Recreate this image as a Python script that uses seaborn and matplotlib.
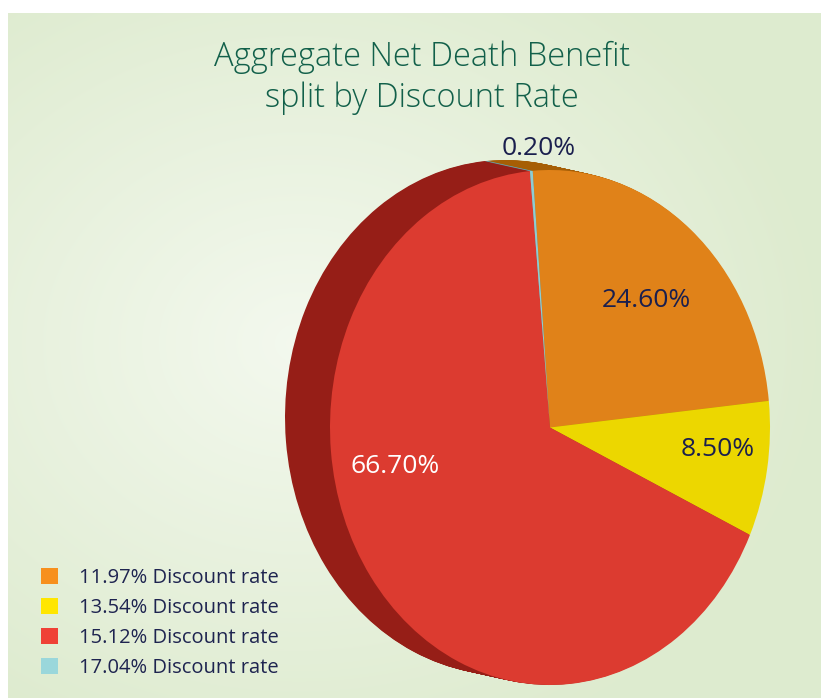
import numpy as np
import matplotlib
matplotlib.use("Agg")
import matplotlib.pyplot as plt
import seaborn as sns
from matplotlib.patches import Patch

sns.set_style("white")
plt.rcParams['font.family'] = ['Open Sans', 'DejaVu Sans']

# ------------------ data ------------------
rates = ["11.97% Discount rate", "13.54% Discount rate",
         "15.12% Discount rate", "17.04% Discount rate"]
shares = [24.60, 8.50, 66.70, 0.20]
share_labels = ["24.60%", "8.50%", "66.70%", "0.20%"]

# ------------------ style ------------------
top_colors = ["#E08219", "#ECD700", "#DC3B30", "#8ECDD3"]
side_colors = ["#A65E05", "#B09F00", "#961E17", "#6AA0A5"]
legend_colors = ["#F7901E", "#FFE600", "#EF4136", "#9AD7DB"]
label_colors = ["#1A1F4E", "#1A1F4E", "#FFFFFF", "#1A1F4E"]
label_pos = [(0.436, 0.495), (0.764, -0.087), (-0.705, -0.150), (-0.05, 1.085)]
navy = "#1E2450"
title_green = "#12604A"

W, H = 821, 698
fig = plt.figure(figsize=(W / 100, H / 100), dpi=100)
fig.patch.set_facecolor("white")

# background panel with soft radial gradient
bg = fig.add_axes([8 / W, 0, 1 - 8 / W, (H - 13) / H])
yy, xx = np.mgrid[0:H - 13, 0:W - 8]
d = np.sqrt(((xx - 290) / 520.0) ** 2 + ((yy - 330) / 430.0) ** 2)
d = np.clip(d, 0, 1)
c_in = np.array([0.955, 0.975, 0.935])
c_out = np.array([0.870, 0.922, 0.812])
img = c_in[None, None, :] * (1 - d[..., None]) + c_out[None, None, :] * d[..., None]
bg.imshow(img, aspect="auto", interpolation="bilinear")
bg.axis("off")

# pie axes over whole figure, stretched so the face is an ellipse
ax = fig.add_axes([0, 0, 1, 1])
ax.patch.set_alpha(0)

start = 94.5
# extruded side: stack of offset pies from back to front
back = np.array([-0.2045, 0.0388])
n_layers = 46
for i in range(n_layers, 0, -1):
    off = back * i / n_layers
    ax.pie(shares, colors=side_colors, startangle=start, counterclock=False,
           center=(off[0], off[1]), radius=1.0,
           wedgeprops=dict(linewidth=0), frame=True)

# top face
ax.pie(shares, colors=top_colors, startangle=start, counterclock=False,
       center=(0, 0), radius=1.0, wedgeprops=dict(linewidth=0), frame=True)

for lab, (lx, ly), col in zip(share_labels, label_pos, label_colors):
    ax.text(lx, ly, lab, ha="center", va="center", fontsize=19, color=col)

ax.set_aspect("auto")
ax.set_xlim(-550 / 220, (W - 550) / 220)
ax.set_ylim((427.5 - H) / 257.5, 427.5 / 257.5)
ax.axis("off")

# title
fig.text(0.514, 1 - 66 / H, "Aggregate Net Death Benefit", ha="center", va="baseline",
         fontsize=23.5, fontweight="light", color=title_green)
fig.text(0.514, 1 - 107 / H, "split by Discount Rate", ha="center", va="baseline",
         fontsize=23.5, fontweight="light", color=title_green)

# legend
handles = [Patch(facecolor=c, edgecolor="none") for c in legend_colors]
fig.legend(handles, rates, loc="upper left", bbox_to_anchor=(41 / W, 1 - 568 / H),
           frameon=False, fontsize=14.5, labelcolor=navy, handlelength=0.85,
           handleheight=0.85, handletextpad=1.05, labelspacing=0.5,
           borderpad=0, borderaxespad=0)

fig.savefig("out.png", dpi=100)
